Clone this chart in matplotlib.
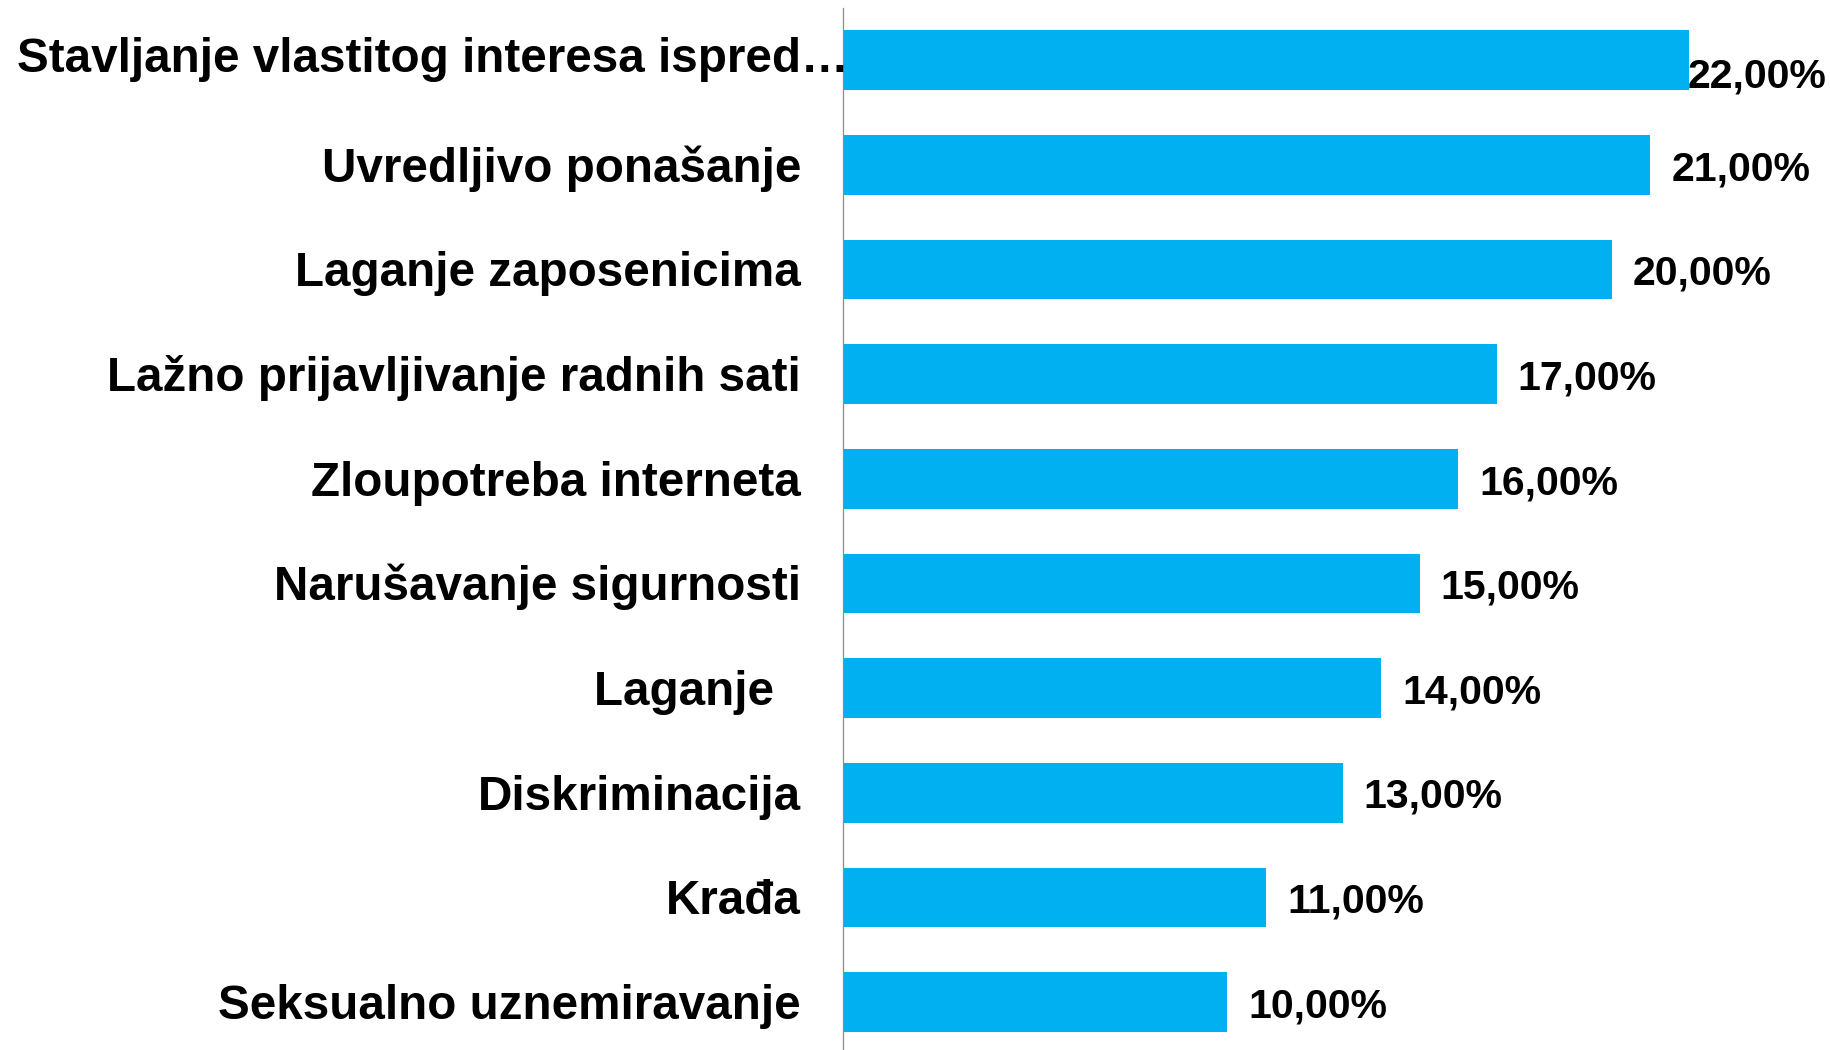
import matplotlib
matplotlib.use("Agg")
import matplotlib.pyplot as plt

plt.rcParams['font.family'] = ['Liberation Sans', 'DejaVu Sans']

categories = [
    "Stavljanje vlastitog interesa ispred…",
    "Uvredljivo ponašanje",
    "Laganje zaposenicima",
    "Lažno prijavljivanje radnih sati",
    "Zloupotreba interneta",
    "Narušavanje sigurnosti",
    "Laganje  ",
    "Diskriminacija",
    "Krađa",
    "Seksualno uznemiravanje",
]
values = [22, 21, 20, 17, 16, 15, 14, 13, 11, 10]
value_labels = ["22,00%", "21,00%", "20,00%", "17,00%", "16,00%",
                "15,00%", "14,00%", "13,00%", "11,00%", "10,00%"]

W, H = 1831, 1050
fig = plt.figure(figsize=(W / 100, H / 100), dpi=100)
ax_left = 843 / W
ax = fig.add_axes([ax_left, 1 - 1054.3 / H, 1 - ax_left, (1054.3 - 8) / H])

y = list(range(len(categories)))
ax.barh(y, values, height=0.57, color="#00B0F0")
ax.set_ylim(len(categories) - 0.5, -0.5)
ax.set_xlim(0, (W - 843) / 38.45)

for s in ["top", "right", "bottom"]:
    ax.spines[s].set_visible(False)
ax.spines["left"].set_color("#8c8c8c")
ax.spines["left"].set_linewidth(0.9)
ax.set_xticks([])
ax.set_yticks([])

# category labels, right aligned left of the axis
for i, cat in enumerate(categories):
    if i == 0:
        # the long first label is squeezed in, running over the axis line
        dx, dy, fs = 6, -12, 34.3
    else:
        dx, dy, fs = -42, -16.8, 34.3
    ax.annotate(cat, xy=(0, i), xycoords=("axes fraction", "data"),
                xytext=(dx, dy), textcoords="offset pixels",
                ha="right", va="baseline", fontsize=fs, fontweight="bold",
                color="black", annotation_clip=False)

# value labels
for i, (v, lab) in enumerate(zip(values, value_labels)):
    if v == max(values):
        dx, dy = -1, -27
    else:
        dx, dy = 21, -15.2
    ax.annotate(lab, xy=(v, i), xytext=(dx, dy), textcoords="offset pixels",
                ha="left", va="baseline", fontsize=29.5, fontweight="bold",
                color="black", annotation_clip=False)

fig.savefig("out.png", dpi=100, facecolor="white")
